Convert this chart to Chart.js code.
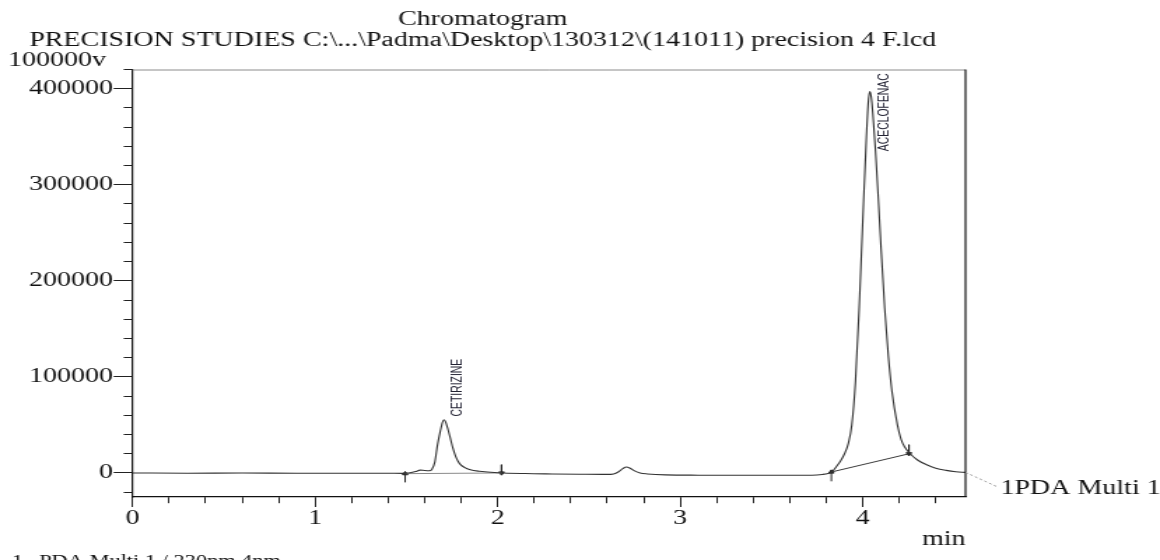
<!DOCTYPE html>
<html>
<head>
<meta charset="utf-8">
<script src="https://cdn.jsdelivr.net/npm/chart.js@4.4.1/dist/chart.umd.min.js"></script>
<style>
  html, body { margin: 0; padding: 0; background: #ffffff; overflow: hidden; }
  #c { display: block; width: 1160px; height: 560px; }
</style>
</head>
<body>
<canvas id="c" width="829" height="560" style="width:1160px;height:560px"></canvas>
<script>
// ---------------- data ----------------
const chartTitle = 'Chromatogram';
const chartSubtitle = 'PRECISION STUDIES C:\\...\\Padma\\Desktop\\130312\\(141011) precision 4 F.lcd';
const yUnitLabel = '100000v';
const seriesName = '1PDA Multi 1';
const footerIndex = '1';
const footerText = 'PDA Multi 1 / 230nm 4nm';
const xAxisTitle = 'min';

// retention time (min)
const times = [0, 0.3, 0.6, 0.9, 1.2, 1.4, 1.48, 1.52, 1.55, 1.575, 1.6, 1.625, 1.64, 1.655, 1.67, 1.685, 1.697, 1.706, 1.715, 1.728, 1.74, 1.755, 1.77, 1.79, 1.82, 1.85, 1.9, 2.0, 2.15, 2.3, 2.45, 2.6, 2.635, 2.66, 2.685, 2.705, 2.725, 2.75, 2.78, 2.82, 2.92, 3.1, 3.3, 3.5, 3.72, 3.78, 3.81, 3.83, 3.855, 3.88, 3.9, 3.92, 3.94, 3.96, 3.98, 4.0, 4.02, 4.03, 4.038, 4.046, 4.055, 4.07, 4.085, 4.1, 4.12, 4.14, 4.16, 4.19, 4.21, 4.23, 4.257, 4.3, 4.35, 4.4, 4.457, 4.51, 4.563];
// detector signal
const signal = [0, -200, 0, -300, -200, -300, -400, 200, 1500, 3000, 2600, 2400, 4000, 11000, 29000, 43000, 52500, 55400, 53000, 45000, 36500, 25500, 17000, 10000, 5500, 3300, 1800, 300, -600, -1000, -1300, -1500, -1000, 1000, 4500, 6200, 5000, 2200, 0, -1000, -2000, -2300, -2400, -2400, -2300, -1500, -500, 1000, 6500, 13000, 20000, 30000, 50000, 95000, 170000, 262000, 350000, 385000, 397000, 392000, 375000, 335000, 287000, 235000, 172000, 122000, 85000, 50000, 35000, 27000, 20500, 13500, 8600, 5000, 2700, 1300, 600];

// peak integration marks: start / end times and signal at those points
const peakStartTimes = [1.493, 3.828];
const peakStartValues = [-700, 1000];
const peakEndTimes = [2.021, 4.253];
const peakEndValues = [0, 20000];
const peakStartArrowTail = [-9800, -8700];
const peakEndArrowTail = [8600, 29400];

// peak names and where their labels sit (time, signal)
const peakNames = ['CETIRIZINE', 'ACECLOFENAC'];
const peakLabelTimes = [1.802, 4.143];
const peakLabelValues = [58800, 335000];

// axes and ticks
const xMin = 0, xMax = 4.563;
const xTickValues = [0, 0.2, 0.4, 0.6, 0.8, 1, 1.2, 1.4, 1.6, 1.8, 2, 2.2, 2.4, 2.6, 2.8, 3, 3.2, 3.4, 3.6, 3.8, 4, 4.2, 4.4];
const xTickLabels = ['0', '1', '2', '3', '4'];
const yMin = -25000, yMax = 420000;
const yTickValues = [-20000, 0, 20000, 40000, 60000, 80000, 100000, 120000, 140000, 160000, 180000, 200000, 220000, 240000, 260000, 280000, 300000, 320000, 340000, 360000, 380000, 400000, 420000];
const yTickLabels = ['0', '100000', '200000', '300000', '400000'];

// ---------------- chart ----------------
const serif = '"Liberation Serif", "Times New Roman", Times, serif';
const sans = '"Liberation Sans", Arial, sans-serif';
const ink = '#111111';

const curve = times.map((t, i) => ({x: t, y: signal[i]}));
const datasets = [{
  label: seriesName,
  data: curve,
  borderColor: '#333333',
  borderWidth: 1.1,
  pointRadius: 0,
  cubicInterpolationMode: 'monotone',
  fill: false
}];
peakStartTimes.forEach((t, i) => {
  datasets.push({
    label: 'baseline ' + (i + 1),
    data: [{x: t, y: peakStartValues[i]}, {x: peakEndTimes[i], y: peakEndValues[i]}],
    borderColor: i === 0 ? '#8a8a8a' : '#3a3a3a',
    borderWidth: 1,
    pointRadius: 0,
    fill: false
  });
  datasets.push({
    label: 'start ' + (i + 1),
    data: [{x: t, y: peakStartArrowTail[i]}, {x: t, y: peakStartValues[i]}],
    borderColor: '#222222',
    backgroundColor: '#222222',
    borderWidth: 1,
    pointRadius: [0, 2.2],
    pointStyle: 'triangle',
    rotation: 0,
    fill: false
  });
  datasets.push({
    label: 'end ' + (i + 1),
    data: [{x: peakEndTimes[i], y: peakEndArrowTail[i]}, {x: peakEndTimes[i], y: peakEndValues[i]}],
    borderColor: '#222222',
    backgroundColor: '#222222',
    borderWidth: 1,
    pointRadius: [0, 2.2],
    pointStyle: 'triangle',
    rotation: 180,
    fill: false
  });
});

const labelOf = (v, list) => {
  const s = String(Math.round(v));
  return (Math.abs(v - Math.round(v)) < 1e-6 && list.includes(s)) ? s : '';
};
const isMajor = (v, list) => labelOf(v, list) !== '';

const decorations = {
  id: 'decorations',
  afterDraw(chart) {
    const {ctx, chartArea: a, scales: {x, y}} = chart;
    ctx.save();
    ctx.lineWidth = 1;
    ctx.strokeStyle = '#8c8c8c';
    ctx.beginPath(); ctx.moveTo(a.left, a.top + 0.5); ctx.lineTo(a.right, a.top + 0.5); ctx.stroke();
    ctx.strokeStyle = '#111111';
    ctx.lineWidth = 1.2;
    ctx.beginPath(); ctx.moveTo(a.right, a.top); ctx.lineTo(a.right, a.bottom); ctx.stroke();

    ctx.fillStyle = ink;
    ctx.font = '20px ' + serif;
    ctx.textAlign = 'left';
    ctx.textBaseline = 'alphabetic';
    ctx.fillText(yUnitLabel, 5.7, 66);

    const lx = x.getPixelForValue(times[times.length - 1]);
    const ly = y.getPixelForValue(signal[signal.length - 1]);
    const tx = a.right + 25;
    const ty = a.bottom - 3;
    ctx.strokeStyle = '#9a9a9a';
    ctx.lineWidth = 1;
    ctx.setLineDash([2, 2]);
    ctx.beginPath(); ctx.moveTo(lx, ly); ctx.lineTo(tx - 2, ty - 7); ctx.stroke();
    ctx.setLineDash([]);
    ctx.fillText(seriesName, tx, ty);

    ctx.font = '16px ' + serif;
    ctx.fillText(footerIndex, 8.6, 565.5);
    ctx.fillText(footerText, 27.9, 565.5);

    ctx.font = '10.4px ' + sans;
    ctx.fillStyle = '#222233';
    peakNames.forEach((name, i) => {
      const px = x.getPixelForValue(peakLabelTimes[i]);
      const py = y.getPixelForValue(peakLabelValues[i]);
      ctx.save();
      ctx.translate(px, py);
      ctx.rotate(-Math.PI / 2);
      ctx.textAlign = 'left';
      ctx.textBaseline = 'alphabetic';
      ctx.fillText(name, 0, 0);
      ctx.restore();
    });
    ctx.restore();
  }
};

new Chart(document.getElementById('c'), {
  type: 'line',
  data: {datasets},
  plugins: [decorations],
  options: {
    responsive: false,
    devicePixelRatio: 1,
    animation: false,
    layout: {padding: {left: 0, right: 139, top: 0, bottom: 0}},
    plugins: {
      legend: {display: false},
      tooltip: {enabled: false},
      title: {
        display: true, text: chartTitle, color: ink,
        font: {family: serif, size: 20, weight: 'normal', lineHeight: 1},
        padding: {top: 9.25, bottom: 0}
      },
      subtitle: {
        display: true, text: chartSubtitle, color: ink,
        font: {family: serif, size: 20, weight: 'normal', lineHeight: 1},
        padding: {top: 1, bottom: 19.25}
      }
    },
    scales: {
      x: {
        type: 'linear', min: xMin, max: xMax,
        afterBuildTicks: s => { s.ticks = xTickValues.map(v => ({value: v})); },
        ticks: {
          autoSkip: false, maxRotation: 0, minRotation: 0,
          color: ink, padding: 1.25,
          font: {family: serif, size: 20, lineHeight: 1},
          callback: v => labelOf(v, xTickLabels)
        },
        grid: {
          drawOnChartArea: false, drawTicks: true, tickLength: 10,
          tickColor: '#222222', tickWidth: 1,
          tickBorderDash: c => (c.tick && isMajor(c.tick.value, xTickLabels)) ? [] : [6, 100]
        },
        border: {display: true, color: '#111111', width: 1.2},
        title: {
          display: true, text: xAxisTitle, align: 'end', color: ink,
          font: {family: serif, size: 20, lineHeight: 1},
          padding: {top: 0, bottom: 10.75}
        },
        afterFit: s => { s.height = 63; }
      },
      y: {
        type: 'linear', min: yMin, max: yMax,
        afterBuildTicks: s => { s.ticks = yTickValues.map(v => ({value: v})); },
        ticks: {
          autoSkip: false,
          color: ink, padding: 0.5,
          font: {family: serif, size: 20, lineHeight: 1},
          callback: v => labelOf(v, yTickLabels)
        },
        grid: {
          drawOnChartArea: false, drawTicks: true, tickLength: 13.6,
          tickColor: '#222222', tickWidth: 1,
          tickBorderDash: c => (c.tick && isMajor(c.tick.value, yTickLabels)) ? [] : [0, 7.2, 6.4, 0]
        },
        border: {display: true, color: '#111111', width: 1.2},
        afterFit: s => { s.width = 94.8; }
      }
    }
  }
});
</script>
</body>
</html>
